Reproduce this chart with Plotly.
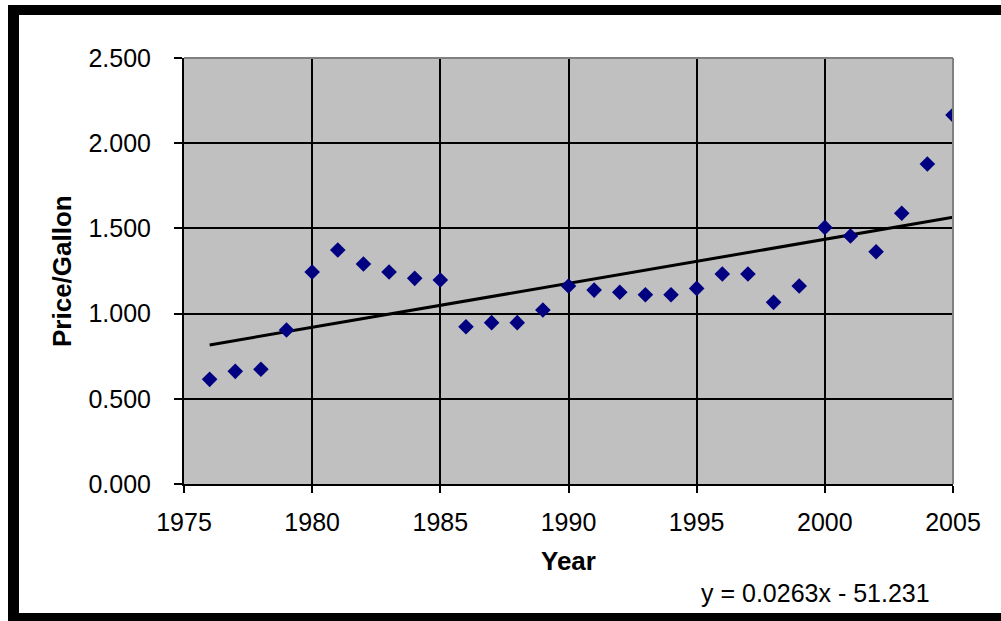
import plotly.graph_objects as go

years = list(range(1976, 2006))
price = [0.614, 0.661, 0.673, 0.904, 1.244, 1.373, 1.291, 1.244, 1.207, 1.197,
         0.923, 0.947, 0.947, 1.021, 1.162, 1.138, 1.125, 1.111, 1.111, 1.148,
         1.232, 1.232, 1.066, 1.162, 1.506, 1.455, 1.363, 1.589, 1.878, 2.165]
trend_x = [1976, 2005]
trend_y = [0.816, 1.565]
equation = "y = 0.0263x - 51.231"
x_ticks = [1975, 1980, 1985, 1990, 1995, 2000, 2005]
y_ticks = [0.0, 0.5, 1.0, 1.5, 2.0, 2.5]

W, H = 1001, 621
L, R, T, B = 184, 953, 58, 484


def px(x):
    return (x - L) / (R - L)


def py(y):
    return (B - y) / (B - T)


fig = go.Figure()
fig.add_trace(go.Scatter(x=trend_x, y=trend_y, mode="lines",
                         line=dict(color="black", width=3), showlegend=False,
                         hoverinfo="skip"))
fig.add_trace(go.Scatter(x=years, y=price, mode="markers",
                         marker=dict(symbol="diamond", color="#000080", size=12,
                                     line=dict(width=0)),
                         showlegend=False))

font = "Liberation Sans, Arial, sans-serif"
fig.update_layout(
    width=W, height=H,
    margin=dict(l=L, r=W - R, t=T, b=H - B),
    paper_bgcolor="white", plot_bgcolor="#C0C0C0",
    font=dict(family=font, color="black"),
    xaxis=dict(range=[1975, 2005], tickvals=x_ticks, ticks="outside", ticklen=7,
               tickcolor="black", tickwidth=2, showgrid=True, gridcolor="black",
               gridwidth=2, showline=True, linecolor="black", linewidth=2,
               zeroline=False, tickfont=dict(size=25), ticklabelstandoff=8),
    yaxis=dict(range=[0, 2.5], tickvals=y_ticks, tickformat=".3f", ticks="outside",
               ticklen=8, tickcolor="black", tickwidth=2, showgrid=True,
               gridcolor="black", gridwidth=2, showline=True, linecolor="black",
               linewidth=2, zeroline=False, tickfont=dict(size=25),
               ticklabelstandoff=18),
    shapes=[
        dict(type="line", xref="paper", yref="paper", x0=0, x1=1, y0=1, y1=1,
             line=dict(color="#808080", width=2)),
        dict(type="line", xref="paper", yref="paper", x0=1, x1=1, y0=0, y1=1,
             line=dict(color="#808080", width=2)),
        dict(type="rect", xref="paper", yref="paper", x0=px(8), x1=px(1001),
             y0=py(15), y1=py(5), fillcolor="black", line=dict(width=0)),
        dict(type="rect", xref="paper", yref="paper", x0=px(8), x1=px(19),
             y0=py(621), y1=py(5), fillcolor="black", line=dict(width=0)),
        dict(type="rect", xref="paper", yref="paper", x0=px(8), x1=px(1001),
             y0=py(621), y1=py(613), fillcolor="black", line=dict(width=0)),
    ],
    annotations=[
        dict(text="<b>Price/Gallon</b>", xref="paper", yref="paper", x=px(62), y=py(271),
             textangle=-90, showarrow=False, font=dict(size=26),
             xanchor="center", yanchor="middle"),
        dict(text="<b>Year</b>", xref="paper", yref="paper", x=px(568), y=py(561),
             showarrow=False, font=dict(size=26), xanchor="center", yanchor="middle"),
        dict(text=equation, xref="paper", yref="paper", x=px(815), y=py(593),
             showarrow=False, font=dict(size=25), xanchor="center", yanchor="middle"),
    ],
)

fig.write_html(
    "out.html",
    config={"displayModeBar": False},
    post_script="document.body.style.margin='0';document.body.style.overflow='hidden';",
)
